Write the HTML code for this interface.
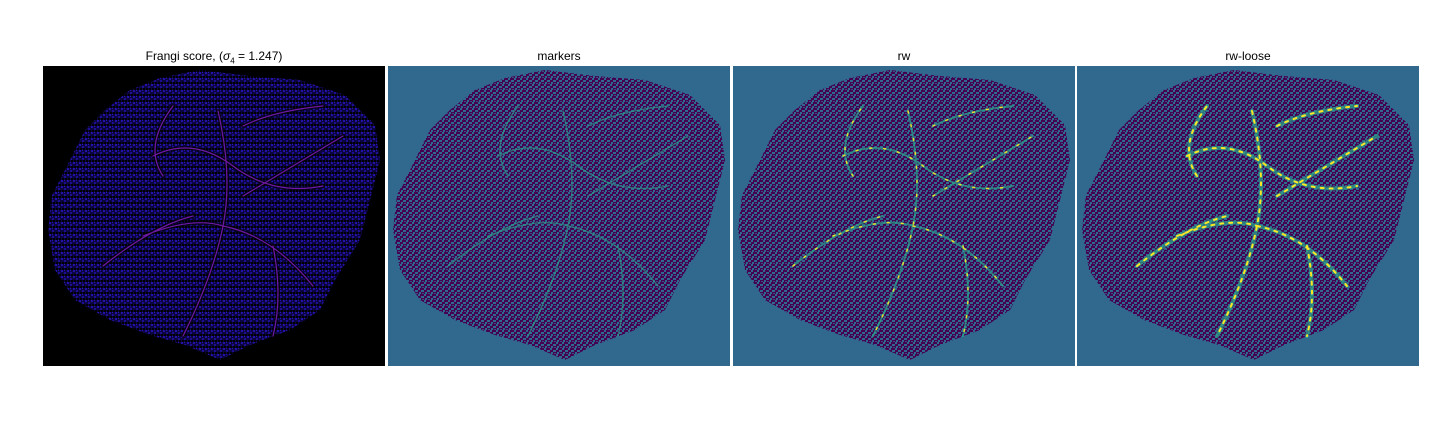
<!DOCTYPE html>
<html><head><meta charset="utf-8"><style>
body{margin:0;background:#fff;width:1440px;height:432px;overflow:hidden;font-family:"Liberation Sans",sans-serif}
.t{position:absolute;top:49px;font-size:12px;color:#000;text-align:center;width:342px}
</style></head><body>
<div class="t" style="left:43px">Frangi score, (<i>σ</i><sub style="font-size:8px">4</sub> = 1.247)</div>
<div class="t" style="left:388px">markers</div>
<div class="t" style="left:733px">rw</div>
<div class="t" style="left:1077px">rw-loose</div>
<svg width="1440" height="432" style="position:absolute;left:0;top:0">
<defs>
<pattern id="pb" width="6" height="6" patternUnits="userSpaceOnUse">
<rect width="6" height="6" fill="#0c0640"/><rect x="0" y="0" width="2" height="2" fill="#2412a8"/><rect x="3" y="2" width="2" height="2" fill="#1e0e90"/><rect x="1" y="4" width="2" height="2" fill="#000"/><rect x="4" y="4" width="2" height="2" fill="#000"/><rect x="3" y="0" width="1" height="1" fill="#2a14b8"/>
</pattern>
<pattern id="pv" width="6" height="6" patternUnits="userSpaceOnUse">
<rect width="6" height="6" fill="#440154"/><rect x="0" y="0" width="2" height="2" fill="#31688e"/><rect x="3" y="2" width="3" height="2" fill="#31688e"/><rect x="1" y="4" width="2" height="2" fill="#31688e"/><rect x="4" y="5" width="2" height="1" fill="#3a4f80"/>
</pattern>
<path id="blob" d="M117,12 L157,4 L207,10 L257,14 L302,29 L332,59 L337,94 L327,134 L317,174 L292,214 L277,244 L247,264 L207,279 L177,294 L142,279 L107,269 L67,254 L32,234 L12,204 L5,164 L9,129 L22,104 L42,64 L62,44 L87,24 Z"/>
<g id="ves" fill="none" stroke-linecap="round">
<path d="M110,90 Q150,70 190,100 T280,120 M175,45 Q190,110 180,160 Q170,210 140,270 M180,160 Q230,170 270,220 M100,170 Q150,150 180,160 M60,200 Q110,160 150,150 M200,130 Q250,100 300,70 M200,60 Q230,45 280,40 M120,110 Q100,80 130,40 M230,180 Q240,230 230,270"/>
</g>
</defs>
<g transform="translate(43,66)">
<rect width="342" height="300" fill="#000"/><use href="#blob" fill="url(#pb)"/>
<use href="#ves" stroke="#000" stroke-width="4" opacity="0.7"/>
<use href="#ves" stroke="#8a1ec8" stroke-width="1.2" opacity="0.8"/>
</g>
<g transform="translate(388,66)">
<rect width="342" height="300" fill="#31688e"/><use href="#blob" fill="url(#pv)"/>
<use href="#ves" stroke="#2aa88a" stroke-width="1.5" opacity="0.6"/>
</g>
<g transform="translate(733,66)">
<rect width="342" height="300" fill="#31688e"/><use href="#blob" fill="url(#pv)"/>
<use href="#ves" stroke="#2aa88a" stroke-width="2" opacity="0.7"/>
<use href="#ves" stroke="#fde725" stroke-width="1.5" stroke-dasharray="2 12" opacity="0.9"/>
</g>
<g transform="translate(1077,66)">
<rect width="342" height="300" fill="#31688e"/><use href="#blob" fill="url(#pv)"/>
<use href="#ves" stroke="#2aa88a" stroke-width="4" opacity="0.7"/>
<use href="#ves" stroke="#fde725" stroke-width="2" stroke-dasharray="3 6"/>
</g>
</svg>
</body></html>
